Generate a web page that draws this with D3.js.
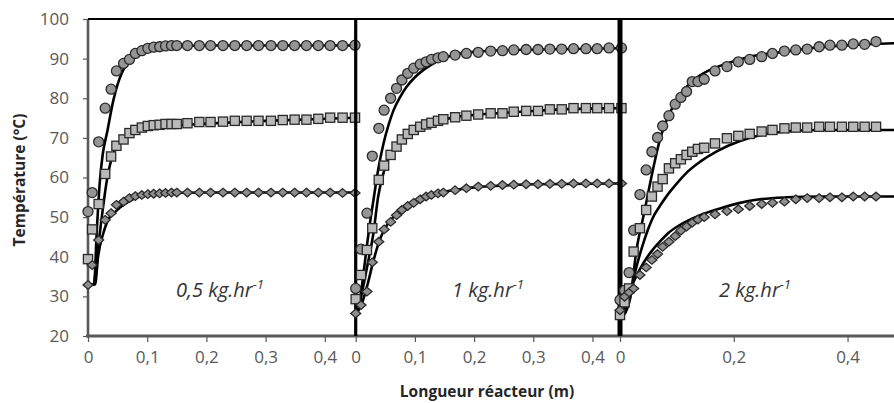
<!DOCTYPE html>
<html>
<head>
<meta charset="utf-8">
<script src="https://cdn.jsdelivr.net/npm/d3@7/dist/d3.min.js"></script>
<style>
  body { margin: 0; background: #fff; }
  svg { display: block; }
  text { font-family: "Open Sans", "Liberation Sans", sans-serif; }
</style>
</head>
<body>
<svg id="chart" width="894" height="403"></svg>
<script>
// ---- data -------------------------------------------------------------
const yTicks = [20, 30, 40, 50, 60, 70, 80, 90, 100];
const panelLabels = ["0,5 kg.hr", "1 kg.hr", "2 kg.hr"];
const panelTicks = [[0, 0.1, 0.2, 0.3, 0.4], [0, 0.1, 0.2, 0.3, 0.4], [0, 0.2, 0.4]];

// 0,5 kg/h : measured positions (m) and temperatures (°C)
const p1X = [0, 0.007, 0.018, 0.029, 0.039, 0.048, 0.06, 0.07, 0.08, 0.091, 0.101, 0.111, 0.121, 0.131, 0.141, 0.15,
  0.168, 0.188, 0.207, 0.228, 0.248, 0.268, 0.288, 0.309, 0.329, 0.349, 0.369, 0.389, 0.409, 0.43, 0.451];
const p1Circle = [51.4, 56.2, 69.0, 77.5, 82.3, 86.9, 88.8, 89.8, 91.3, 92.0, 92.6, 92.9, 93.0, 93.2, 93.3, 93.3,
  93.3, 93.3, 93.3, 93.3, 93.3, 93.3, 93.3, 93.3, 93.3, 93.3, 93.3, 93.3, 93.3, 93.3, 93.4];
const p1Square = [39.4, 46.9, 53.3, 60.9, 65.3, 68.0, 69.6, 71.2, 72.0, 72.6, 73.0, 73.2, 73.3, 73.5, 73.5, 73.5,
  73.7, 74.0, 74.0, 74.1, 74.3, 74.3, 74.3, 74.3, 74.5, 74.6, 74.6, 74.8, 75.1, 75.1, 75.1];
const p1Diamond = [32.9, 37.9, 44.2, 49.3, 51.0, 53.1, 53.9, 54.8, 55.3, 55.6, 55.8, 55.9, 56.0, 56.1, 56.2, 56.2,
  56.2, 56.2, 56.2, 56.2, 56.2, 56.2, 56.2, 56.2, 56.2, 56.2, 56.2, 56.2, 56.2, 56.1, 56.1];
// 0,5 kg/h : model curves [position, temperature]
const p1CircleModel = [[0, 33], [0.01, 33], [0.015, 47], [0.02, 59], [0.025, 66], [0.032, 71.2], [0.043, 79.6],
  [0.05, 83.5], [0.057, 86.3], [0.065, 88.5], [0.077, 90.5], [0.09, 91.7], [0.1, 92.3], [0.12, 92.9], [0.15, 93.2],
  [0.2, 93.3], [0.451, 93.3]];
const p1SquareModel = [[0, 33], [0.01, 33], [0.015, 40], [0.02, 46], [0.025, 52], [0.032, 59.4], [0.043, 66.1],
  [0.05, 68], [0.065, 70.3], [0.08, 71.6], [0.093, 72.4], [0.11, 72.8], [0.133, 73.0], [0.2, 73.6], [0.3, 74.3],
  [0.451, 75.1]];
const p1DiamondModel = [[0, 33], [0.012, 33], [0.017, 40], [0.026, 46], [0.037, 50.1], [0.045, 51.2],
  [0.054, 52.4], [0.065, 53.6], [0.088, 55.2], [0.122, 55.9], [0.2, 56.2], [0.451, 56.2]];

// 1 kg/h
const p2X = [0, 0.009, 0.019, 0.028, 0.039, 0.048, 0.059, 0.069, 0.078, 0.088, 0.098, 0.109, 0.119, 0.128, 0.139, 0.148,
  0.168, 0.187, 0.207, 0.228, 0.248, 0.267, 0.288, 0.308, 0.328, 0.348, 0.368, 0.389, 0.408, 0.428, 0.449];
const p2Circle = [32.0, 41.9, 51.0, 65.4, 72.4, 77.0, 80.0, 82.5, 84.6, 86.3, 87.6, 88.6, 89.2, 89.8, 90.2, 90.5,
  90.9, 91.3, 91.6, 91.9, 92.0, 92.2, 92.3, 92.3, 92.4, 92.4, 92.5, 92.5, 92.5, 92.7, 92.7];
const p2Square = [29.3, 35.4, 41.7, 47.2, 59.4, 63.0, 65.7, 67.8, 69.6, 71.0, 72.0, 72.8, 73.4, 73.8, 74.3, 74.7,
  75.2, 75.6, 75.9, 76.2, 76.2, 76.6, 76.8, 76.8, 77.2, 77.2, 77.5, 77.5, 77.5, 77.5, 77.5];
const p2Diamond = [25.7, 27.8, 31.2, 38.6, 43.8, 46.9, 48.8, 50.5, 51.8, 52.8, 53.6, 54.5, 55.2, 55.6, 56.0, 56.2,
  56.8, 57.3, 57.7, 57.9, 58.1, 58.2, 58.3, 58.3, 58.4, 58.4, 58.5, 58.5, 58.5, 58.5, 58.5];
const p2CircleModel = [[0, 25.5], [0.005, 27], [0.01, 32], [0.015, 38], [0.02, 44], [0.025, 49.5], [0.03, 54.3],
  [0.038, 62], [0.047, 68.6], [0.055, 73], [0.064, 77], [0.075, 80.3], [0.086, 82.9], [0.1, 85.3], [0.114, 87.1],
  [0.128, 88.5], [0.142, 89.7], [0.171, 91.1], [0.2, 91.7], [0.227, 92.0], [0.31, 92.3], [0.445, 92.6]];
const p2SquareModel = [[0, 25.5], [0.005, 27], [0.01, 30.5], [0.02, 38], [0.03, 46], [0.038, 55.2], [0.045, 60],
  [0.052, 63.6], [0.06, 65.8], [0.069, 67.8], [0.08, 69.8], [0.09, 71.2], [0.1, 72.1], [0.12, 73.4], [0.14, 74.3],
  [0.17, 75.3], [0.2, 75.8], [0.25, 76.3], [0.3, 76.8], [0.35, 77.2], [0.445, 77.5]];
const p2DiamondModel = [[0, 25.5], [0.01, 28], [0.02, 33], [0.03, 39], [0.04, 44], [0.05, 47.3], [0.06, 49.4],
  [0.07, 51], [0.08, 52.2], [0.09, 53.2], [0.1, 54], [0.12, 55.3], [0.14, 56.1], [0.17, 56.9], [0.2, 57.5],
  [0.25, 58], [0.3, 58.3], [0.445, 58.5]];

// 2 kg/h
const p3X = [0, 0.008, 0.016, 0.024, 0.035, 0.046, 0.056, 0.066, 0.075, 0.086, 0.097, 0.107, 0.117, 0.127, 0.137, 0.148,
  0.167, 0.188, 0.208, 0.228, 0.249, 0.268, 0.289, 0.309, 0.329, 0.35, 0.369, 0.39, 0.41, 0.43, 0.45];
const p3Circle = [29.1, 31.5, 36.0, 46.7, 55.7, 61.9, 66.5, 70.1, 73.0, 75.6, 78.5, 80.2, 81.7, 84.2, 84.2, 84.8,
  86.9, 88.0, 89.2, 89.8, 90.5, 91.3, 91.9, 92.2, 92.4, 93.0, 93.4, 93.4, 93.7, 93.6, 94.3];
const p3Square = [25.3, 28.5, 32.0, 41.3, 47.2, 51.8, 55.2, 57.7, 59.6, 62.3, 63.6, 64.6, 65.7, 66.5, 67.2, 67.5,
  68.6, 69.9, 70.5, 71.0, 71.6, 72.0, 72.4, 72.6, 72.6, 72.8, 72.8, 72.8, 72.8, 72.8, 72.8];
const p3Diamond = [26.5, 29.9, 31.0, 32.0, 35.4, 37.3, 39.2, 40.7, 42.5, 43.8, 45.2, 46.6, 47.6, 48.6, 49.4, 50.0,
  50.7, 51.5, 52.0, 52.8, 53.3, 53.6, 53.9, 54.5, 54.8, 54.8, 55.0, 55.0, 55.2, 55.2, 55.2];
const p3CircleModel = [[0, 24.5], [0.01, 26], [0.018, 29.5], [0.029, 41.7], [0.041, 50.1], [0.047, 54.3],
  [0.059, 62.7], [0.07, 69.5], [0.082, 74.5], [0.1, 79.6], [0.123, 83.8], [0.152, 86.7], [0.188, 88.8],
  [0.228, 90.5], [0.287, 91.7], [0.346, 92.8], [0.404, 93.4], [0.482, 93.9]];
const p3SquareModel = [[0, 24.5], [0.009, 26], [0.02, 32], [0.029, 37.5], [0.04, 43], [0.05, 47.2], [0.06, 50.5],
  [0.07, 52.8], [0.082, 55.3], [0.1, 58.5], [0.12, 61.6], [0.141, 64], [0.17, 66.6], [0.211, 69.2], [0.25, 70.8],
  [0.3, 71.7], [0.35, 72.0], [0.482, 72.0]];
const p3DiamondModel = [[0, 24.5], [0.01, 28], [0.018, 31.6], [0.03, 35.5], [0.041, 38.4], [0.055, 41.3],
  [0.07, 43.8], [0.085, 46], [0.105, 48], [0.141, 50.5], [0.176, 52.2], [0.211, 53.6], [0.246, 54.5],
  [0.293, 55.0], [0.35, 55.2], [0.482, 55.2]];

// ---- layout -------------------------------------------------------------
const svg = d3.select("#chart");
const plotTop = 19, plotBottom = 336;
const axisGray = "#595959";
const y = d3.scaleLinear().domain([20, 100]).range([plotBottom, plotTop]);

const panels = [
  { x: d3.scaleLinear().domain([0, 0.451]).range([88, 355]), xs: p1X,
    series: [p1Circle, p1Square, p1Diamond], models: [p1CircleModel, p1SquareModel, p1DiamondModel],
    labelX: 220, edge: null },
  { x: d3.scaleLinear().domain([0, 0.445]).range([355.7, 619.1]), xs: p2X,
    series: [p2Circle, p2Square, p2Diamond], models: [p2CircleModel, p2SquareModel, p2DiamondModel],
    labelX: 488, edge: 3.2 },
  { x: d3.scaleLinear().domain([0, 0.4816]).range([620, 894]), xs: p3X,
    series: [p3Circle, p3Square, p3Diamond], models: [p3CircleModel, p3SquareModel, p3DiamondModel],
    labelX: 755, edge: 5 }
];

const fr = d3.formatLocale({ decimal: ",", thousands: " ", grouping: [3], currency: ["", "€"] });
const fmtX = v => v === 0 ? "0" : fr.format(".1f")(v);

// marker shapes
const markerStyle = [
  { fill: "#959595", draw: g => g.append("circle").attr("r", 5) },
  { fill: "#b9b9b9", draw: g => g.append("rect").attr("x", -4.6).attr("y", -4.6).attr("width", 9.2).attr("height", 9.2) },
  { fill: "#8e8e8e", draw: g => g.append("path").attr("d", "M0,-4.3L5,0L0,4.3L-5,0Z") }
];

// bottom axis baseline across all panels
svg.append("line")
  .attr("x1", 86).attr("x2", 894).attr("y1", plotBottom).attr("y2", plotBottom)
  .attr("stroke", axisGray).attr("stroke-width", 3);

// left value axis (first panel only)
const yAxis = svg.append("g").attr("transform", "translate(88,0)")
  .call(d3.axisLeft(y).tickValues(yTicks).tickSize(5).tickPadding(14).tickFormat(d3.format("d")));
yAxis.select(".domain").remove();
yAxis.selectAll(".tick line").attr("stroke", axisGray).attr("stroke-width", 1.2);
yAxis.selectAll(".tick text").attr("fill", axisGray).style("font-size", "17px")
  .style("font-family", "'Open Sans', sans-serif");
svg.append("line")
  .attr("x1", 88).attr("x2", 88).attr("y1", plotTop).attr("y2", plotBottom + 1.5)
  .attr("stroke", axisGray).attr("stroke-width", 2.6);

// top frame
svg.append("line")
  .attr("x1", 88).attr("x2", 894).attr("y1", plotTop).attr("y2", plotTop)
  .attr("stroke", "#000").attr("stroke-width", 2.2);

const line = d3.line().curve(d3.curveMonotoneX);

panels.forEach((p, i) => {
  const g = svg.append("g");

  // tick marks and labels below each panel
  const xAxis = g.append("g").attr("transform", `translate(0,${plotBottom + 1})`)
    .call(d3.axisBottom(p.x).tickValues(panelTicks[i]).tickSize(5).tickPadding(9).tickFormat(fmtX));
  xAxis.select(".domain").remove();
  xAxis.selectAll(".tick line").attr("stroke", axisGray).attr("stroke-width", 1.2);
  xAxis.selectAll(".tick text").attr("fill", axisGray).style("font-size", "17px")
    .style("font-family", "'Open Sans', sans-serif");

  // panel separator frame
  if (p.edge) {
    g.append("line")
      .attr("x1", p.x(0)).attr("x2", p.x(0)).attr("y1", plotTop - 1).attr("y2", plotBottom)
      .attr("stroke", "#000").attr("stroke-width", p.edge);
  }

  // mass-flow label
  const lab = g.append("text")
    .attr("x", p.labelX).attr("y", 297)
    .attr("text-anchor", "middle")
    .attr("fill", "#333")
    .style("font-size", "20px").style("font-style", "italic");
  lab.append("tspan").text(panelLabels[i]);
  lab.append("tspan").attr("dy", -8).style("font-size", "13px").text("-1");

  // model curves
  p.models.forEach(m => {
    g.append("path")
      .attr("d", line(m.map(d => [p.x(d[0]), y(d[1])])))
      .attr("fill", "none").attr("stroke", "#000").attr("stroke-width", 2.6)
      .attr("stroke-linejoin", "round");
  });

  // measured points
  p.series.forEach((vals, s) => {
    const st = markerStyle[s];
    vals.forEach((v, k) => {
      const mg = g.append("g").attr("transform", `translate(${p.x(p.xs[k])},${y(v)})`);
      st.draw(mg).attr("fill", st.fill).attr("stroke", "#2a2a2a").attr("stroke-width", 1.3);
    });
  });
});

// axis titles
svg.append("text")
  .attr("transform", "translate(25,180) rotate(-90)")
  .attr("text-anchor", "middle")
  .attr("fill", "#262626")
  .style("font-size", "15.5px").style("font-weight", "bold")
  .text("Température (°C)");

svg.append("text")
  .attr("x", 487).attr("y", 397)
  .attr("text-anchor", "middle")
  .attr("fill", "#262626")
  .style("font-size", "15.5px").style("font-weight", "bold")
  .text("Longueur réacteur (m)");
</script>
</body>
</html>
